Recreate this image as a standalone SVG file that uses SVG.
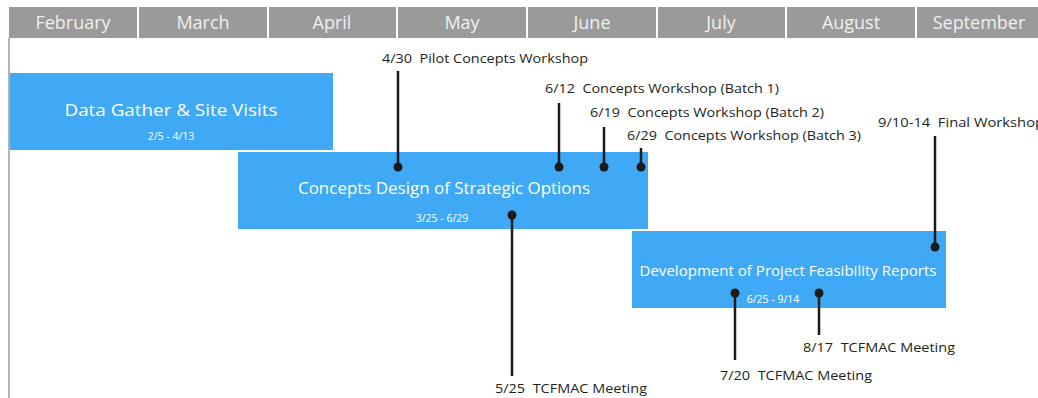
<svg xmlns="http://www.w3.org/2000/svg" width="1038" height="398" viewBox="0 0 1038 398">
<style>
.mon{fill:#9a9a9a}
.mt{font-family:"Open Sans","Liberation Sans",sans-serif;font-size:18px;fill:#f0f0f0;text-anchor:middle}
.bar{fill:#3fa9f5}
.bt{font-family:"Open Sans","Liberation Sans",sans-serif;fill:#ffffff;text-anchor:middle}
.bs{font-family:"Open Sans","Liberation Sans",sans-serif;font-size:10.5px;fill:#ffffff;text-anchor:middle}
.lb{font-family:"Open Sans","Liberation Sans",sans-serif;font-size:13px;fill:#231f20;white-space:pre}
.ln{stroke:#1a1a1a;stroke-width:2.5;fill:none}
.dot{fill:#1a1a1a}
</style>
<rect width="1038" height="398" fill="#ffffff"/>
<g id="timeline-header">
<rect class="mon" x="9" y="7" width="128" height="31"/>
<rect class="mon" x="139" y="7" width="128" height="31"/>
<rect class="mon" x="269" y="7" width="127" height="31"/>
<rect class="mon" x="398" y="7" width="128" height="31"/>
<rect class="mon" x="528" y="7" width="128" height="31"/>
<rect class="mon" x="658" y="7" width="127" height="31"/>
<rect class="mon" x="787" y="7" width="128" height="31"/>
<rect class="mon" x="917" y="7" width="121" height="31"/>
<text class="mt" x="73" y="28.5">February</text>
<text class="mt" x="203" y="28.5">March</text>
<text class="mt" x="332" y="28.5">April</text>
<text class="mt" x="462" y="28.5">May</text>
<text class="mt" x="592" y="28.5">June</text>
<text class="mt" x="721" y="28.5">July</text>
<text class="mt" x="851" y="28.5">August</text>
<text class="mt" x="979" y="28.5">September</text>
<line x1="9" y1="38" x2="9" y2="398" stroke="#9a9a9a" stroke-width="1.5"/>
</g>
<g id="bar-data-gather">
<rect class="bar" x="10" y="73" width="323" height="77"/>
<text class="bt" x="171" y="116" font-size="17" textLength="213" lengthAdjust="spacingAndGlyphs">Data Gather &amp; Site Visits</text>
<text class="bs" x="171" y="140">2/5 - 4/13</text>
</g>
<g id="bar-concepts">
<rect class="bar" x="238" y="152" width="410" height="77"/>
<text class="bt" x="444" y="194" font-size="15.5" textLength="292" lengthAdjust="spacingAndGlyphs">Concepts Design of Strategic Options</text>
<text class="bs" x="442" y="222">3/25 - 6/29</text>
</g>
<g id="bar-development">
<rect class="bar" x="632" y="231" width="314" height="77"/>
<text class="bt" x="788" y="276" font-size="15" textLength="297" lengthAdjust="spacingAndGlyphs">Development of Project Feasibility Reports</text>
<text class="bs" x="773" y="303">6/25 - 9/14</text>
</g>
<g id="label-pilot"><text class="lb" x="382" y="63" textLength="206" lengthAdjust="spacingAndGlyphs">4/30  Pilot Concepts Workshop</text></g>
<g id="label-batch1"><text class="lb" x="545" y="93" textLength="234" lengthAdjust="spacingAndGlyphs">6/12  Concepts Workshop (Batch 1)</text></g>
<g id="label-batch2"><text class="lb" x="590" y="117" textLength="234" lengthAdjust="spacingAndGlyphs">6/19  Concepts Workshop (Batch 2)</text></g>
<g id="label-batch3"><text class="lb" x="627" y="140" textLength="234" lengthAdjust="spacingAndGlyphs">6/29  Concepts Workshop (Batch 3)</text></g>
<g id="label-final"><text class="lb" x="878" y="127" textLength="166" lengthAdjust="spacingAndGlyphs">9/10-14  Final Workshop</text></g>
<g id="label-tcfmac-525"><text class="lb" x="495" y="393" textLength="152" lengthAdjust="spacingAndGlyphs">5/25  TCFMAC Meeting</text></g>
<g id="label-tcfmac-720"><text class="lb" x="720" y="380" textLength="152" lengthAdjust="spacingAndGlyphs">7/20  TCFMAC Meeting</text></g>
<g id="label-tcfmac-817"><text class="lb" x="803" y="352" textLength="152" lengthAdjust="spacingAndGlyphs">8/17  TCFMAC Meeting</text></g>
<g id="connectors">
<line class="ln" x1="398" y1="71" x2="398" y2="167"/>
<circle class="dot" cx="398" cy="167" r="4.5"/>
<line class="ln" x1="559" y1="103" x2="559" y2="167"/>
<circle class="dot" cx="559" cy="167" r="4.5"/>
<line class="ln" x1="604" y1="127" x2="604" y2="167"/>
<circle class="dot" cx="604" cy="167" r="4.5"/>
<line class="ln" x1="641" y1="148" x2="641" y2="167"/>
<circle class="dot" cx="641" cy="167" r="4.5"/>
<line class="ln" x1="935" y1="136" x2="935" y2="247"/>
<circle class="dot" cx="935" cy="247" r="4.5"/>
<line class="ln" x1="512" y1="215" x2="512" y2="376"/>
<circle class="dot" cx="512" cy="215" r="4.5"/>
<line class="ln" x1="735" y1="293" x2="735" y2="360"/>
<circle class="dot" cx="735" cy="293" r="4.5"/>
<line class="ln" x1="819" y1="293" x2="819" y2="335"/>
<circle class="dot" cx="819" cy="293" r="4.5"/>
</g>
</svg>
